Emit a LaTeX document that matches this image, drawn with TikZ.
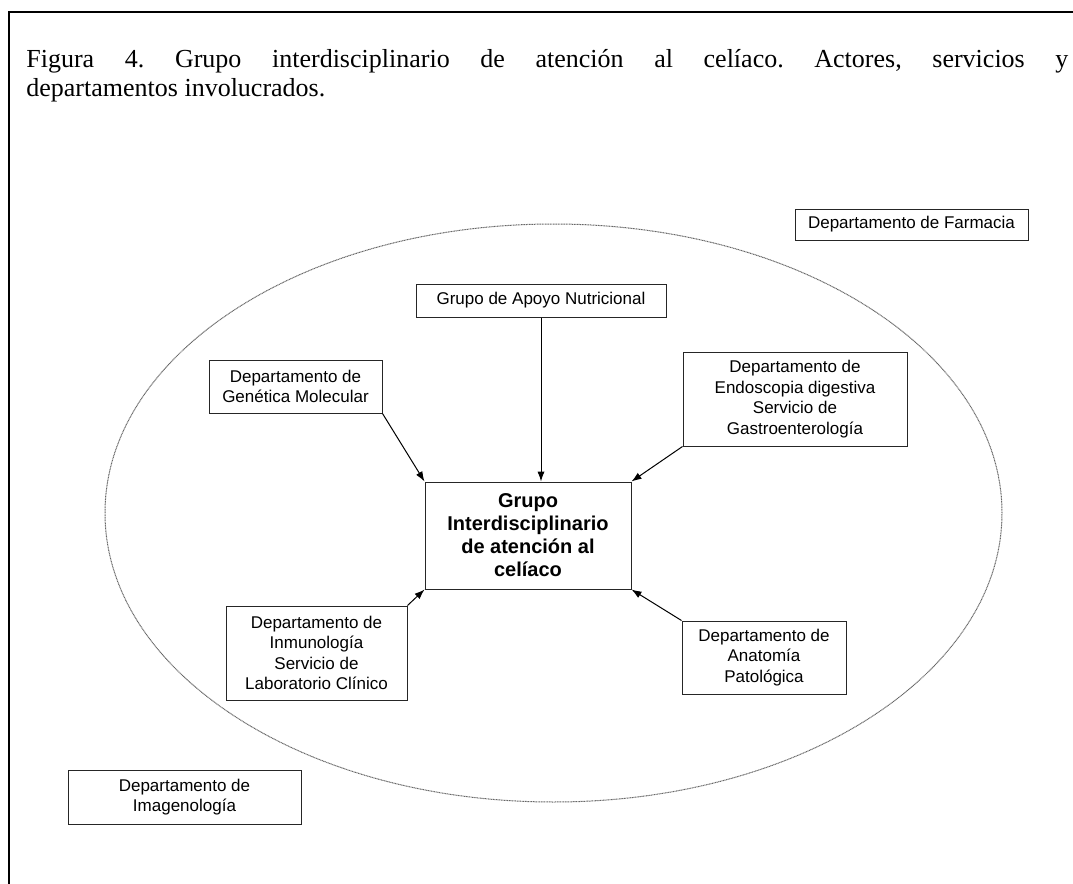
\documentclass[tikz,border=0pt]{standalone}
\usepackage{fontspec}
\setmainfont{Liberation Serif}
\setsansfont{Liberation Sans}
\usetikzlibrary{arrows.meta}
\frenchspacing
\begin{document}
\begin{tikzpicture}[x=0.5pt, y=-0.5pt,
		depto/.style={draw=black!85, line width=0.5pt, inner sep=0pt, align=center, font=\sffamily\fontsize{8.5}{10.3}\selectfont},
		flecha/.style={-{Latex[length=5pt,width=3.6pt]}, line width=0.5pt}]
		\useasboundingbox (0,0) rectangle (1073,884);
		\draw[line width=1pt] (9,884) -- (9,12) -- (1073,12);
		\node[anchor=base west, inner sep=0pt, text width=521pt, align=justify, font=\fontsize{13}{14.5}\selectfont](titulo) at (26,67){Figura 4. Grupo interdisciplinario de atención al celíaco. Actores, servicios y\linebreak departamentos involucrados.};
		\draw[black!60, line width=0.5pt, dash pattern=on 0.5pt off 0.3pt] (553.5,513) ellipse [x radius=224.25pt, y radius=144.5pt];
		\node[depto, minimum width=116.5pt, minimum height=15.5pt](farmacia) at (911.5,224.5){Departamento de Farmacia};
		\node[depto, minimum width=125pt, minimum height=16.5pt](nutricion) at (541,300.5){Grupo de Apoyo Nutricional};
		\node[depto, minimum width=86.5pt, minimum height=26.5pt](genetica) at (295.5,386.5){Departamento de\\ Genética Molecular};
		\node[depto, minimum width=112pt, minimum height=47pt](endoscopia) at (795,399){Departamento de\\ Endoscopia digestiva\\ Servicio de\\ Gastroenterología};
		\node[depto, font=\sffamily\bfseries\fontsize{10}{11.5}\selectfont, minimum width=103pt, minimum height=53.5pt](grupo) at (528,535.5){Grupo\\ Interdisciplinario\\ de atención al\\ celíaco};
		\node[depto, minimum width=90.5pt, minimum height=47pt](inmuno) at (316.5,653){Departamento de\\ Inmunología\\ Servicio de\\ Laboratorio Clínico};
		\node[depto, minimum width=82pt, minimum height=36.5pt](anatomia) at (764,657.5){Departamento de\\ Anatomía\\ Patológica};
		\node[depto, minimum width=116.5pt, minimum height=27pt](imagen) at (184.5,797){Departamento de\\ Imagenología};
		% flechas hacia el grupo central
		\draw[flecha] (genetica.south east) -- (grupo.north west);
		\draw[flecha] (nutricion) -- (nutricion |- grupo.north);
		\draw[flecha] (endoscopia.south west) -- (grupo.north east);
		\draw[flecha] (inmuno.north east) -- (grupo.south west);
		\draw[flecha] (anatomia.north west) -- (grupo.south east);
	\end{tikzpicture}
\end{document}
